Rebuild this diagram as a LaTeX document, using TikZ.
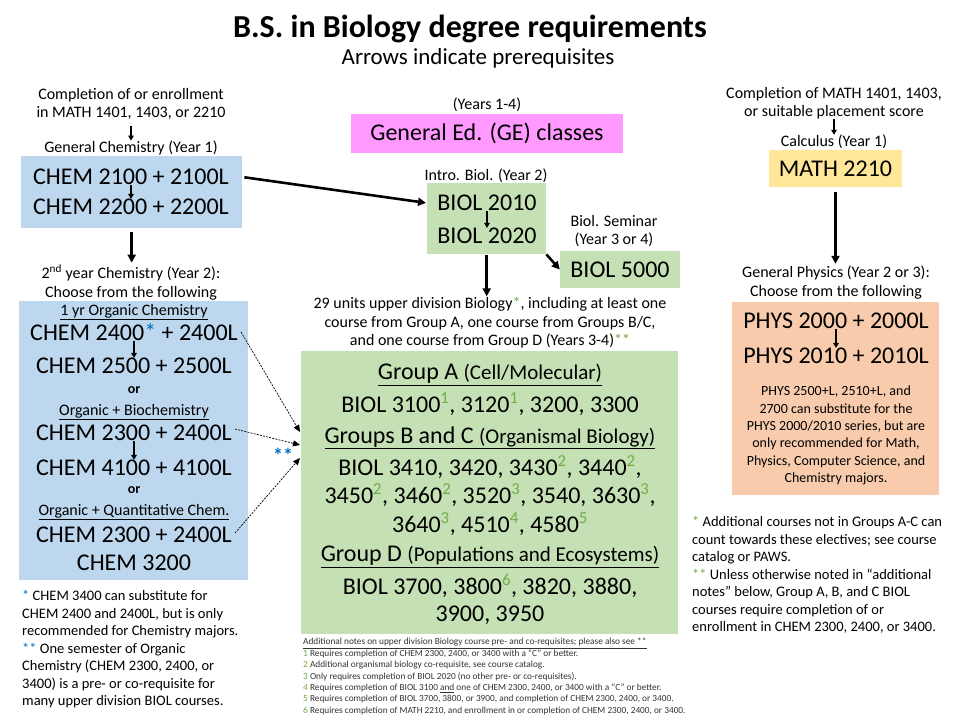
\documentclass[tikz,border=0pt]{standalone}
\usepackage{fontspec}
\setmainfont{Carlito}
\usetikzlibrary{arrows.meta,positioning,calc}

\newcommand\noteref[1]{\textsuperscript{\textcolor{stargreen}{#1}}}
\newcommand\groupsubfont{\fontsize{21}{26}\selectfont}

\begin{document}
\begin{tikzpicture}[x=1pt, y=-1pt,
    every node/.style={inner sep=0pt},
    titletxt/.style={font=\fontsize{32}{38}\selectfont\bfseries},
    subtxt/.style={font=\fontsize{23}{27}\selectfont},
    bigtxt/.style={font=\fontsize{24}{30}\selectfont},
    smalltxt/.style={font=\fontsize{16}{18.5}\selectfont, align=center},
    ortxt/.style={font=\fontsize{14}{16}\selectfont\bfseries},
    notetxt/.style={font=\fontsize{14.5}{17.5}\selectfont, align=left, anchor=north west},
    tinytxt/.style={font=\fontsize{9.3}{11.4}\selectfont, align=left, anchor=north west, text=black!80},
    physnote/.style={font=\fontsize{14}{17.4}\selectfont, align=center},
    coursebox/.style={anchor=north west},
    bigarrow/.style={-{Triangle[length=8pt,width=8pt]}, line width=2.6pt},
    smallarrow/.style={-{Triangle[length=5pt,width=5.5pt]}, line width=1.5pt},
    dasharrow/.style={-{Triangle[length=7pt,width=6pt]}, line width=0.7pt, dash pattern=on 2pt off 1.2pt}]
    \definecolor{chemblue}{HTML}{BDD7EE}
    \definecolor{biogreen}{HTML}{C5E0B4}
    \definecolor{gepink}{HTML}{FF99FF}
    \definecolor{mathyellow}{HTML}{FFE699}
    \definecolor{physorange}{HTML}{F8CBAD}
    \definecolor{stargreen}{HTML}{70AD47}
    \definecolor{starblue}{HTML}{0070C0}

    \fill[white] (0,0) rectangle (960,720);
    \useasboundingbox (0,0) rectangle (960,720);

    % =================== title ===================
    \node[titletxt, anchor=base] (title) at (470,37) {B.S. in Biology degree requirements};
    \node[subtxt, anchor=base] (subtitle) at (478,64) {Arrows indicate prerequisites};

    % =================== chemistry column ===================
    \node[smalltxt] (mathpre) at (131,104) {Completion of or enrollment\\in MATH 1401, 1403, or 2210};
    \node[smalltxt] (genchemhead) at (131,148) {General Chemistry (Year 1)};
    \node[coursebox, fill=chemblue, minimum width=221pt, minimum height=72pt] (genchem) at (21,156) {};
    \node[bigtxt] (chemA) at (131,177) {CHEM 2100 + 2100L};
    \node[bigtxt] (chemB) at (131,207) {CHEM 2200 + 2200L};
    \draw[smallarrow] (chemA) -- (chemB);
    \draw[smallarrow, shorten <=6pt] (mathpre.south) -- (mathpre.south |- genchemhead.north);

    \node[smalltxt] (chem2head) at (131,282.5) {2\textsuperscript{nd} year Chemistry (Year 2):\\Choose from the following};
    \draw[bigarrow, shorten <=4pt, shorten >=2pt] (genchem.south) -- (genchem.south |- chem2head.north);

    % second year chemistry choices
    \node[coursebox, fill=chemblue, minimum width=229pt, minimum height=279pt] (orgchem) at (19,301) {};
    \node[smalltxt] (orgAhead) at (134,312) {\underline{1 yr Organic Chemistry}};
    \node[bigtxt] (c2400) at (134,332) {CHEM 2400\textcolor{starblue}{*} + 2400L};
    \node[bigtxt] (c2500) at (134,366) {CHEM 2500 + 2500L};
    \draw[smallarrow] (c2400) -- (c2500);
    \node[ortxt] (or1) at (134,390) {or};
    \node[smalltxt] (orgBhead) at (134,412) {\underline{Organic + Biochemistry}};
    \node[bigtxt] (c2300a) at (134,433) {CHEM 2300 + 2400L};
    \node[bigtxt] (c4100) at (134,468) {CHEM 4100 + 4100L};
    \draw[smallarrow] (c2300a) -- (c4100);
    \node[ortxt] (or2) at (134,490) {or};
    \node[smalltxt] (orgChead) at (134,512) {\underline{Organic + Quantitative Chem.}};
    \node[bigtxt] (c2300b) at (134,535) {CHEM 2300 + 2400L};
    \node[bigtxt] (c3200) at (134,563) {CHEM 3200};

    \node[notetxt] (chemnotes) at (22,590) {\textcolor{starblue}{*} CHEM 3400 can substitute for\\
      CHEM 2400 and 2400L, but is only\\
      recommended for Chemistry majors.\\
      \textcolor{starblue}{**} One semester of Organic\\
      Chemistry (CHEM 2300, 2400, or\\
      3400) is a pre- or co-requisite for\\
      many upper division BIOL courses.};

    % =================== biology column ===================
    \node[smalltxt] (geyears) at (487,105) {(Years 1-4)};
    \node[fill=gepink, bigtxt, minimum width=272pt, minimum height=39pt] (ge) at (487,133.5) {General Ed. (GE) classes};

    \node[smalltxt] (introhead) at (486,176) {Intro. Biol. (Year 2)};
    \node[coursebox, fill=biogreen, minimum width=119pt, minimum height=71pt] (intro) at (427,183) {};
    \node[bigtxt] (bioA) at (487,203) {BIOL 2010};
    \node[bigtxt] (bioB) at (487,236) {BIOL 2020};
    \draw[smallarrow] (bioA) -- (bioB);

    \node[smalltxt] (semhead) at (614,231) {Biol. Seminar\\(Year 3 or 4)};
    \node[fill=biogreen, bigtxt, minimum width=120pt, minimum height=37pt] (sem) at (620,269.5) {BIOL 5000};

    \draw[bigarrow, shorten <=2pt, shorten >=1pt] (genchem.east |- chemA) -- (intro.west |- bioA);
    \draw[bigarrow] (intro.south east) -- (sem.west);

    \node[smalltxt] (units) at (490,323) {29 units upper division Biology\textcolor{stargreen}{*}, including at least one\\
      course from Group A, one course from Groups B/C,\\
      and one course from Group D (Years 3-4)\textcolor{stargreen}{**}};
    \draw[bigarrow, shorten <=1pt, shorten >=1pt] (intro.south) -- (intro.south |- units.north);

    % upper division groups
    \node[coursebox, fill=biogreen, minimum width=377pt, minimum height=283pt] (upper) at (301,351) {};
    \node[bigtxt] (grpA) at (490,375) {\underline{Group A \groupsubfont(Cell/Molecular)}};
    \node[bigtxt] (grpAlist) at (490,404) {BIOL 3100\noteref{1}, 3120\noteref{1}, 3200, 3300};
    \node[bigtxt] (grpB) at (490,438) {\underline{Groups B and C \groupsubfont(Organismal Biology)}};
    \node[bigtxt] (grpBlistA) at (490,467) {BIOL 3410, 3420, 3430\noteref{2}, 3440\noteref{2},};
    \node[bigtxt] (grpBlistB) at (490,495) {3450\noteref{2}, 3460\noteref{2}, 3520\noteref{3}, 3540, 3630\noteref{3},};
    \node[bigtxt] (grpBlistC) at (490,524) {3640\noteref{3}, 4510\noteref{4}, 4580\noteref{5}};
    \node[bigtxt] (grpD) at (490,557) {\underline{Group D \groupsubfont(Populations and Ecosystems)}};
    \node[bigtxt] (grpDlistA) at (490,586) {BIOL 3700, 3800\noteref{6}, 3820, 3880,};
    \node[bigtxt] (grpDlistB) at (490,615) {3900, 3950};

    % organic chemistry feeds the upper division courses
    \coordinate (dashA) at (300,432);
    \coordinate (dashB) at (300,445);
    \coordinate (dashC) at (300,458);
    \draw[dasharrow] ([xshift=3pt]c2400.east) -- (dashA);
    \draw[dasharrow] ([xshift=3pt,yshift=4pt]c2300a.east) -- (dashB);
    \draw[dasharrow] ([xshift=3pt,yshift=2pt]c2300b.east) -- (dashC);
    \node[font=\fontsize{20}{24}\selectfont\bfseries, text=starblue] (dblstar) at (283,455) {**};

    \node[tinytxt] (biolnotes) at (303,638) {\underline{Additional notes on upper division Biology course pre- and co-requisites; please also see **}\\
      \textcolor{stargreen}{1} Requires completion of CHEM 2300, 2400, or 3400 with a “C” or better.\\
      \textcolor{stargreen}{2} Additional organismal biology co-requisite, see course catalog.\\
      \textcolor{stargreen}{3} Only requires completion of BIOL 2020 (no other pre- or co-requisites).\\
      \textcolor{stargreen}{4} Requires completion of BIOL 3100 \underline{and} one of CHEM 2300, 2400, or 3400 with a “C” or better.\\
      \textcolor{stargreen}{5} Requires completion of BIOL 3700, 3800, or 3900, and completion of CHEM 2300, 2400, or 3400.\\
      \textcolor{stargreen}{6} Requires completion of MATH 2210, and enrollment in or completion of CHEM 2300, 2400, or 3400.};

    % =================== math and physics column ===================
    \node[smalltxt] (mathpre2) at (834,103) {Completion of MATH 1401, 1403,\\or suitable placement score};
    \node[smalltxt] (calchead) at (834,142) {Calculus (Year 1)};
    \draw[smallarrow] (mathpre2) -- (calchead);
    \node[fill=mathyellow, bigtxt, minimum width=133pt, minimum height=37pt] (calc) at (835.5,168.5) {MATH 2210};

    \node[smalltxt] (physhead) at (836,282.5) {General Physics (Year 2 or 3):\\Choose from the following};
    \draw[bigarrow, shorten <=5pt, shorten >=2pt] (calc.south) -- (calc.south |- physhead.north);

    \node[coursebox, fill=physorange, minimum width=207pt, minimum height=193pt] (phys) at (732,302) {};
    \node[bigtxt] (physA) at (836,321) {PHYS 2000 + 2000L};
    \node[bigtxt] (physB) at (836,356) {PHYS 2010 + 2010L};
    \draw[smallarrow] (physA) -- (physB);
    \node[physnote] (physsub) at (836,435.5) {PHYS 2500+L, 2510+L, and\\
      2700 can substitute for the\\
      PHYS 2000/2010 series, but are\\
      only recommended for Math,\\
      Physics, Computer Science, and\\
      Chemistry majors.};

    \node[notetxt] (biolstars) at (692,516) {\textcolor{stargreen}{*} Additional courses not in Groups A-C can\\
      count towards these electives; see course\\
      catalog or PAWS.\\
      \textcolor{stargreen}{**} Unless otherwise noted in “additional\\
      notes” below, Group A, B, and C BIOL\\
      courses require completion of or\\
      enrollment in CHEM 2300, 2400, or 3400.};
\end{tikzpicture}
\end{document}
